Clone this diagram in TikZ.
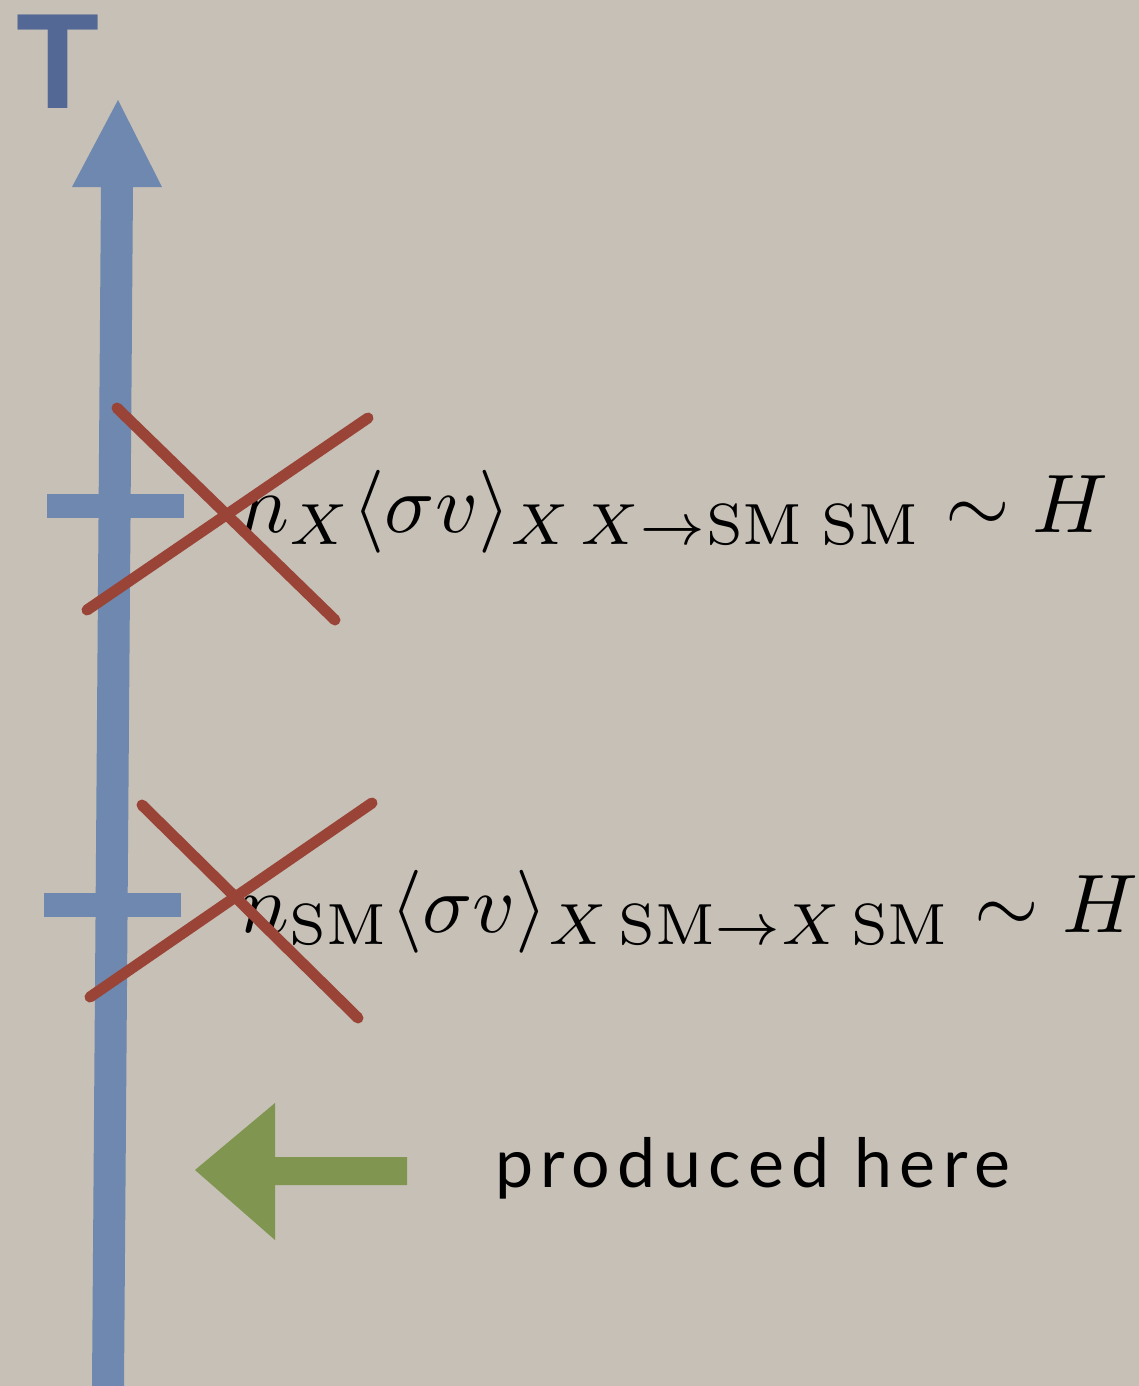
\documentclass[tikz,border=0pt]{standalone}
\usepackage{fontspec}
\newfontfamily\capfont{Liberation Sans}
\newfontfamily\labfont[LetterSpace=11]{Lato}
\definecolor{bg}{HTML}{C7C0B6}
\definecolor{axisblue}{HTML}{6E88AF}
\definecolor{tblue}{HTML}{536894}
\definecolor{crossred}{HTML}{9A4438}
\definecolor{arrowgreen}{HTML}{7F9550}
\tikzset{
  crossline/.style={draw=crossred, line width=11pt, line cap=round},
  tickbar/.style={fill=axisblue},
  eqtext/.style={anchor=base west, inner sep=0pt, scale=8.3, font=\fontsize{10}{12}\selectfont},
  labtext/.style={anchor=base west, inner sep=0pt, font=\labfont\fontsize{68}{76}\selectfont},
}
\begin{document}
\begin{tikzpicture}[x=1pt,y=-1pt]
\fill[bg] (0,0) rectangle (1139,1386);
\useasboundingbox (0,0) rectangle (1139,1386);
% T label
\node[anchor=base west, inner sep=0pt, text=tblue, font=\capfont\bfseries\fontsize{136}{140}\selectfont] (tlab) at (16,109) {T};
% axis arrow
\fill[axisblue] (92,1386) -- (101,187) -- (72,187) -- (118,100) -- (162,187) -- (133,187) -- (124,1386) -- cycle;
% ticks
\fill[tickbar] (47,494) rectangle (184,518);
\fill[tickbar] (44,893) rectangle (181,917);
% equations
\node[eqtext] (eq1) at (238,532) {$n_X\langle\sigma v\rangle_{X\,X\to\mathrm{SM}\;\mathrm{SM}}\sim H$};
\node[eqtext] (eq2) at (238,932) {$n_{\mathrm{SM}}\langle\sigma v\rangle_{X\,\mathrm{SM}\to X\,\mathrm{SM}}\sim H$};
% crosses
\draw[crossline] (117,408) -- (335,620);
\draw[crossline] (87,610) -- (368,418);
\draw[crossline] (142,805) -- (358,1018);
\draw[crossline] (90,997) -- (372,803);
% green arrow
\fill[arrowgreen] (195,1170) -- (275,1103) -- (275,1157) -- (407,1157) -- (407,1185) -- (275,1185) -- (275,1240) -- cycle;
\node[labtext] (lab) at (495,1187) {produced here};
\end{tikzpicture}
\end{document}
